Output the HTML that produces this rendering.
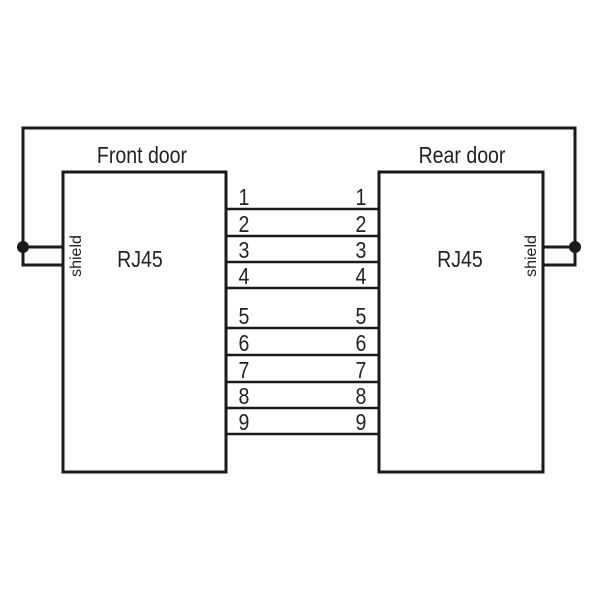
<!DOCTYPE html>
<html><head><style>body{margin:0;background:#fff}</style></head><body>
<svg width="600" height="600" viewBox="0 0 600 600" xmlns="http://www.w3.org/2000/svg" font-family="'Liberation Sans Narrow','Liberation Sans',sans-serif" fill="#222">
<g stroke="#1a1a1a" stroke-width="3" fill="none">
<polyline points="63,265 23,265 23,128 575,128 575,265 543,265"/>
<line x1="23" y1="247" x2="63" y2="247"/>
<line x1="543" y1="247" x2="575" y2="247"/>
<rect x="63" y="172" width="163" height="300"/>
<rect x="379" y="172" width="164" height="300"/>
<g stroke-width="2.5">
<line x1="226" y1="209" x2="379" y2="209"/>
<line x1="226" y1="236" x2="379" y2="236"/>
<line x1="226" y1="262" x2="379" y2="262"/>
<line x1="226" y1="288" x2="379" y2="288"/>
<line x1="226" y1="328" x2="379" y2="328"/>
<line x1="226" y1="355" x2="379" y2="355"/>
<line x1="226" y1="382" x2="379" y2="382"/>
<line x1="226" y1="408" x2="379" y2="408"/>
<line x1="226" y1="434" x2="379" y2="434"/>
</g>
</g>
<circle cx="23" cy="247" r="6" fill="#1a1a1a"/>
<circle cx="575" cy="247" r="6" fill="#1a1a1a"/>
<g font-size="23" text-anchor="middle">
<text x="142" y="163" transform="translate(142 0) scale(0.85 1) translate(-142 0)">Front door</text>
<text x="462" y="163" transform="translate(462 0) scale(0.85 1) translate(-462 0)">Rear door</text>
<text x="140" y="267" transform="translate(140 0) scale(0.85 1) translate(-140 0)">RJ45</text>
<text x="460" y="267" transform="translate(460 0) scale(0.85 1) translate(-460 0)">RJ45</text>
</g>
<g font-size="23" text-anchor="middle">
<g transform="translate(244 0) scale(0.85 1)">
<text x="0" y="205">1</text><text x="0" y="232">2</text><text x="0" y="258">3</text><text x="0" y="284">4</text>
<text x="0" y="324">5</text><text x="0" y="351">6</text><text x="0" y="378">7</text><text x="0" y="404">8</text><text x="0" y="430">9</text>
</g>
<g transform="translate(361 0) scale(0.85 1)">
<text x="0" y="205">1</text><text x="0" y="232">2</text><text x="0" y="258">3</text><text x="0" y="284">4</text>
<text x="0" y="324">5</text><text x="0" y="351">6</text><text x="0" y="378">7</text><text x="0" y="404">8</text><text x="0" y="430">9</text>
</g>
</g>
<g font-size="16" text-anchor="middle">
<text transform="translate(81 256) rotate(-90)">shield</text>
<text transform="translate(536 256) rotate(-90)">shield</text>
</g>
</svg>
</body></html>
